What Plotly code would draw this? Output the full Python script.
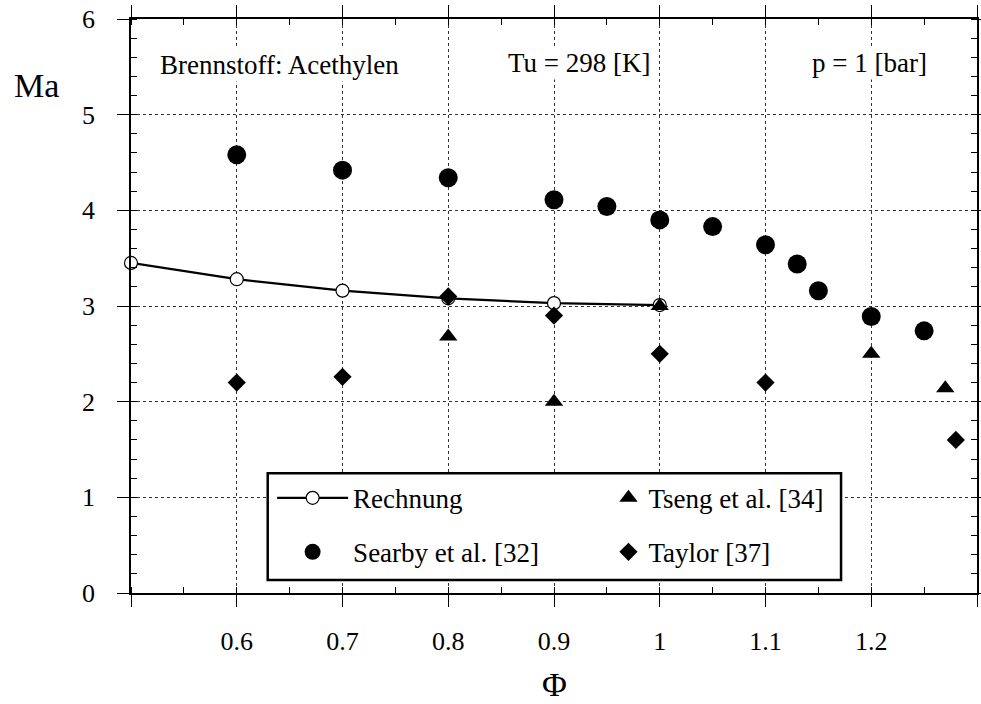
import plotly.graph_objects as go

# ---- data ----
phi_rechnung = [0.5, 0.6, 0.7, 0.8, 0.9, 1.0]
ma_rechnung = [3.45, 3.28, 3.16, 3.08, 3.03, 3.01]

phi_searby = [0.6, 0.7, 0.8, 0.9, 0.95, 1.0, 1.05, 1.1, 1.13, 1.15, 1.2, 1.25]
ma_searby = [4.58, 4.42, 4.34, 4.11, 4.04, 3.90, 3.83, 3.64, 3.44, 3.16, 2.89, 2.74]

phi_tseng = [0.8, 0.9, 1.0, 1.2, 1.27]
ma_tseng = [2.68, 2.0, 3.0, 2.5, 2.14]

phi_taylor = [0.6, 0.7, 0.8, 0.9, 1.0, 1.1, 1.28]
ma_taylor = [2.2, 2.26, 3.1, 2.9, 2.5, 2.2, 1.6]

x_tickvals = [0.5, 0.6, 0.7, 0.8, 0.9, 1.0, 1.1, 1.2, 1.3]
x_ticktext = ["", "0.6", "0.7", "0.8", "0.9", "1", "1.1", "1.2", ""]
y_tickvals = [0, 1, 2, 3, 4, 5, 6]
y_ticktext = ["0", "1", "2", "3", "4", "5", "6"]

FONT = "Liberation Serif"

fig = go.Figure()

fig.add_trace(go.Scatter(
    x=phi_rechnung, y=ma_rechnung, mode="lines+markers", name="Rechnung",
    line=dict(color="black", width=2.2),
    marker=dict(symbol="circle", size=13, color="white", line=dict(color="black", width=1.2)),
    legend="legend", showlegend=True, cliponaxis=False,
))
fig.add_trace(go.Scatter(
    x=phi_searby, y=ma_searby, mode="markers", name="Searby et al. [32]",
    marker=dict(symbol="circle", size=19, color="black"),
    legend="legend2", showlegend=True,
))
fig.add_trace(go.Scatter(
    x=phi_tseng, y=ma_tseng, mode="markers", name="Tseng et al. [34]",
    marker=dict(symbol="triangle-up", size=16, color="black"),
    legend="legend3", showlegend=True,
))
fig.add_trace(go.Scatter(
    x=phi_taylor, y=ma_taylor, mode="markers", name="Taylor [37]",
    marker=dict(symbol="diamond", size=14, color="black"),
    legend="legend4", showlegend=True,
))

axis_common = dict(
    showline=True, linecolor="black", linewidth=1.6, mirror="ticks",
    ticks="outside", ticklen=12, tickwidth=1.4, tickcolor="black",
    showgrid=True, gridcolor="#333333", gridwidth=1.3, griddash="dot",
    zeroline=False,
    tickfont=dict(family=FONT, size=26, color="black"),
)

fig.update_xaxes(
    range=[0.5, 1.3], tickmode="array", tickvals=x_tickvals, ticktext=x_ticktext,
    ticklabelstandoff=12,
    minor=dict(dtick=0.05, tick0=0.5, ticks="inside", ticklen=6, tickwidth=1.2, tickcolor="black", showgrid=False),
    **axis_common,
)
fig.update_yaxes(
    range=[0, 6], tickmode="array", tickvals=y_tickvals, ticktext=y_ticktext,
    ticklabelstandoff=17,
    minor=dict(dtick=0.2, tick0=0, ticks="inside", ticklen=6, tickwidth=1.2, tickcolor="black", showgrid=False),
    **axis_common,
)

leg_common = dict(
    font=dict(family=FONT, size=27, color="black"),
    bgcolor="rgba(0,0,0,0)", borderwidth=0,
    xanchor="left", yanchor="middle", orientation="v",
)

fig.update_layout(
    width=993, height=704, autosize=False,
    margin=dict(l=131, r=2, t=19, b=111),
    plot_bgcolor="white", paper_bgcolor="white",
    font=dict(family=FONT, size=26, color="black"),
    showlegend=True,
    legend=dict(x=0.1668, y=0.165, itemwidth=71, **leg_common),
    legend2=dict(x=0.1668, y=0.071, itemwidth=71, **leg_common),
    legend3=dict(x=0.5644, y=0.165, itemwidth=30, **leg_common),
    legend4=dict(x=0.5644, y=0.071, itemwidth=30, **leg_common),
    shapes=[dict(
        type="rect", xref="paper", yref="paper",
        x0=0.1616, x1=0.8393, y0=0.0226, y1=0.2085,
        line=dict(color="black", width=2.5), fillcolor="white", layer="above",
    )],
    annotations=[
        dict(text="Brennstoff: Acethylen", x=0.175, y=0.92, xref="paper", yref="paper",
             showarrow=False, xanchor="center", yanchor="middle", bgcolor="white",
             font=dict(family=FONT, size=27, color="black")),
        dict(text="Tu = 298 [K]", x=0.530, y=0.923, xref="paper", yref="paper",
             showarrow=False, xanchor="center", yanchor="middle", bgcolor="white",
             font=dict(family=FONT, size=27, color="black")),
        dict(text="p = 1 [bar]", x=0.8726, y=0.923, xref="paper", yref="paper",
             showarrow=False, xanchor="center", yanchor="middle", bgcolor="white",
             font=dict(family=FONT, size=27, color="black")),
        dict(text="Ma", x=-0.1118, y=0.885, xref="paper", yref="paper",
             showarrow=False, xanchor="center", yanchor="middle",
             font=dict(family=FONT, size=34, color="black")),
        dict(text="Φ", x=0.5, y=-0.159, xref="paper", yref="paper",
             showarrow=False, xanchor="center", yanchor="middle",
             font=dict(family=FONT, size=34, color="black")),
    ],
)

fig.write_html(
    "out.html",
    config={"responsive": False, "displayModeBar": False},
    post_script="document.body.style.margin='0px';",
)
